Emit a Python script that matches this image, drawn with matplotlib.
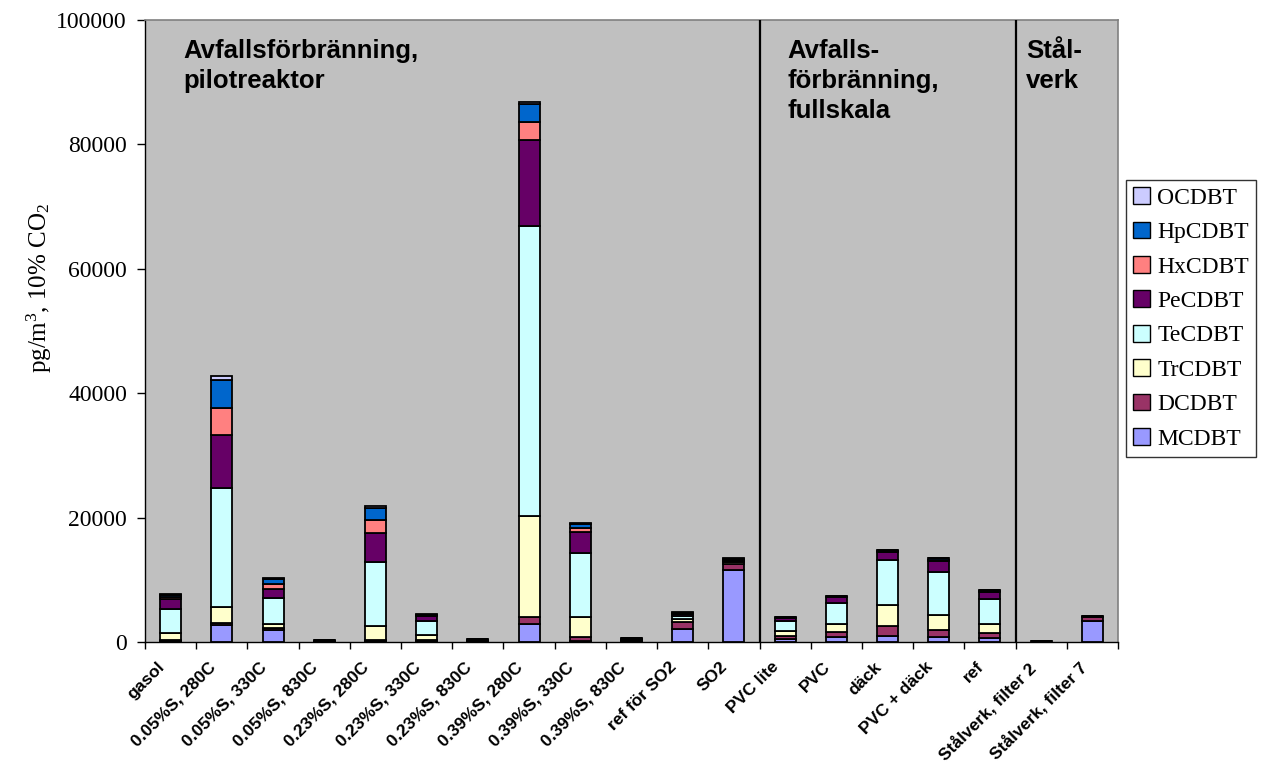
import matplotlib
matplotlib.use("Agg")
import matplotlib.pyplot as plt
from matplotlib.patches import Patch
from matplotlib.transforms import ScaledTranslation
import numpy as np

categories = ['gasol', '0.05%S, 280C', '0.05%S, 330C', '0.05%S, 830C',
              '0.23%S, 280C', '0.23%S, 330C', '0.23%S, 830C',
              '0.39%S, 280C', '0.39%S, 330C', '0.39%S, 830C',
              'ref för SO2', 'SO2', 'PVC lite', 'PVC', 'däck',
              'PVC + däck', 'ref', 'Stålverk, filter 2', 'Stålverk, filter 7']

mcdbt  = [100, 2700, 2000, 50, 100, 150, 60, 2850, 200, 80, 2050, 11550, 450, 800, 950, 850, 600, 20, 3400]
dcdbt  = [200, 300, 250, 50, 200, 250, 80, 1200, 650, 100, 1100, 1050, 500, 800, 1600, 1100, 800, 20, 550]
trcdbt = [1100, 2700, 700, 80, 2250, 700, 100, 16200, 3100, 150, 550, 200, 800, 1300, 3400, 2400, 1450, 20, 50]
tecdbt = [3850, 19000, 4100, 100, 10350, 2300, 120, 46600, 10300, 180, 500, 200, 1650, 3450, 7200, 6950, 4050, 20, 100]
pecdbt = [1650, 8600, 1500, 50, 4700, 750, 80, 13900, 3400, 100, 350, 250, 400, 850, 1350, 1750, 1150, 10, 80]
hxcdbt = [300, 4400, 800, 20, 2000, 100, 30, 2850, 750, 50, 80, 80, 80, 80, 120, 200, 150, 5, 30]
hpcdbt = [400, 4500, 750, 20, 2000, 150, 20, 2950, 650, 40, 100, 80, 100, 100, 150, 200, 150, 5, 20]
ocdbt  = [150, 600, 150, 10, 300, 50, 10, 250, 100, 20, 20, 40, 40, 30, 30, 50, 30, 0, 10]

series_names = ['MCDBT', 'DCDBT', 'TrCDBT', 'TeCDBT', 'PeCDBT', 'HxCDBT', 'HpCDBT', 'OCDBT']
series_values = [mcdbt, dcdbt, trcdbt, tecdbt, pecdbt, hxcdbt, hpcdbt, ocdbt]
series_colors = ['#9999FF', '#993366', '#FFFFCC', '#CCFFFF',
                 '#660066', '#FF8080', '#0066CC', '#CCCCFF']

group_labels = ['Avfallsförbränning,\npilotreaktor',
                'Avfalls-\nförbränning,\nfullskala',
                'Stål-\nverk']
group_starts = [0, 12, 17]
group_text_offset = [0.74, 0.55, 0.2]

plt.rcParams['mathtext.fontset'] = 'custom'
plt.rcParams['mathtext.rm'] = 'Liberation Serif'
plt.rcParams['mathtext.it'] = 'Liberation Serif:italic'

fig = plt.figure(figsize=(12.67, 7.63), dpi=100)
ax = fig.add_axes([145 / 1267, 1 - 642 / 763, 973 / 1267, 622 / 763])
ax.set_facecolor('#C0C0C0')

x = np.arange(len(categories))
bottom = np.zeros(len(categories))
for name, vals, col in zip(series_names, series_values, series_colors):
    v = np.array(vals, dtype=float)
    ax.bar(x, v, width=0.41, bottom=bottom, color=col, edgecolor='black',
           linewidth=1.3, label=name, zorder=3)
    bottom += v

ax.set_xlim(-0.5, len(categories) - 0.5)
ax.set_ylim(0, 100000)

# group separators
for s in group_starts[1:]:
    ax.axvline(s - 0.5, color='black', linewidth=1.6, zorder=4)

# group titles
for lbl, s, off in zip(group_labels, group_starts, group_text_offset):
    ax.text(s - 0.5 + off, 96900, lbl, ha='left', va='top',
            fontsize=18.5, fontweight='bold', family='Liberation Sans',
            linespacing=1.3, zorder=5)

# axes styling
for side in ['top', 'right']:
    ax.spines[side].set_color('#808080')
    ax.spines[side].set_linewidth(1.2)
for side in ['left', 'bottom']:
    ax.spines[side].set_color('black')
    ax.spines[side].set_linewidth(1.0)

ax.set_yticks(np.arange(0, 100001, 20000))
ax.set_yticklabels([str(v) for v in range(0, 100001, 20000)],
                   family='Liberation Serif', fontsize=17)
ax.tick_params(axis='y', direction='out', length=6, width=1, pad=7)

ax.set_xticks(np.arange(-0.5, len(categories), 1.0), minor=True)
ax.set_xticks(x)
ax.set_xticklabels(categories, rotation=45, ha='right', va='top',
                   rotation_mode='anchor', family='Liberation Sans',
                   fontweight='bold', fontsize=12.5)
ax.tick_params(axis='x', which='major', length=0, pad=12.5)
ax.tick_params(axis='x', which='minor', direction='out', length=5, width=1)
shift = ScaledTranslation(-14 / 100, 0, fig.dpi_scale_trans)
for lab in ax.get_xticklabels():
    lab.set_transform(lab.get_transform() + shift)

ax.set_ylabel('pg/m$^{3}$, 10% CO$_{2}$', family='Liberation Serif', fontsize=18)
ax.yaxis.set_label_coords(-0.094, 0.569)

handles = [Patch(facecolor=c, edgecolor='black', linewidth=1.0, label=n)
           for n, c in zip(series_names, series_colors)][::-1]
leg = fig.legend(handles=handles, loc='upper left',
                 bbox_to_anchor=(1126 / 1267, 1 - 180 / 763),
                 prop={'family': 'Liberation Serif', 'size': 17},
                 frameon=True, fancybox=False, shadow=False,
                 handlelength=0.72, handleheight=0.72, handletextpad=0.3,
                 labelspacing=0.54, borderpad=0.3, borderaxespad=0)
leg.get_frame().set_edgecolor('black')
leg.get_frame().set_linewidth(1.0)

fig.savefig('out.png', dpi=100)
